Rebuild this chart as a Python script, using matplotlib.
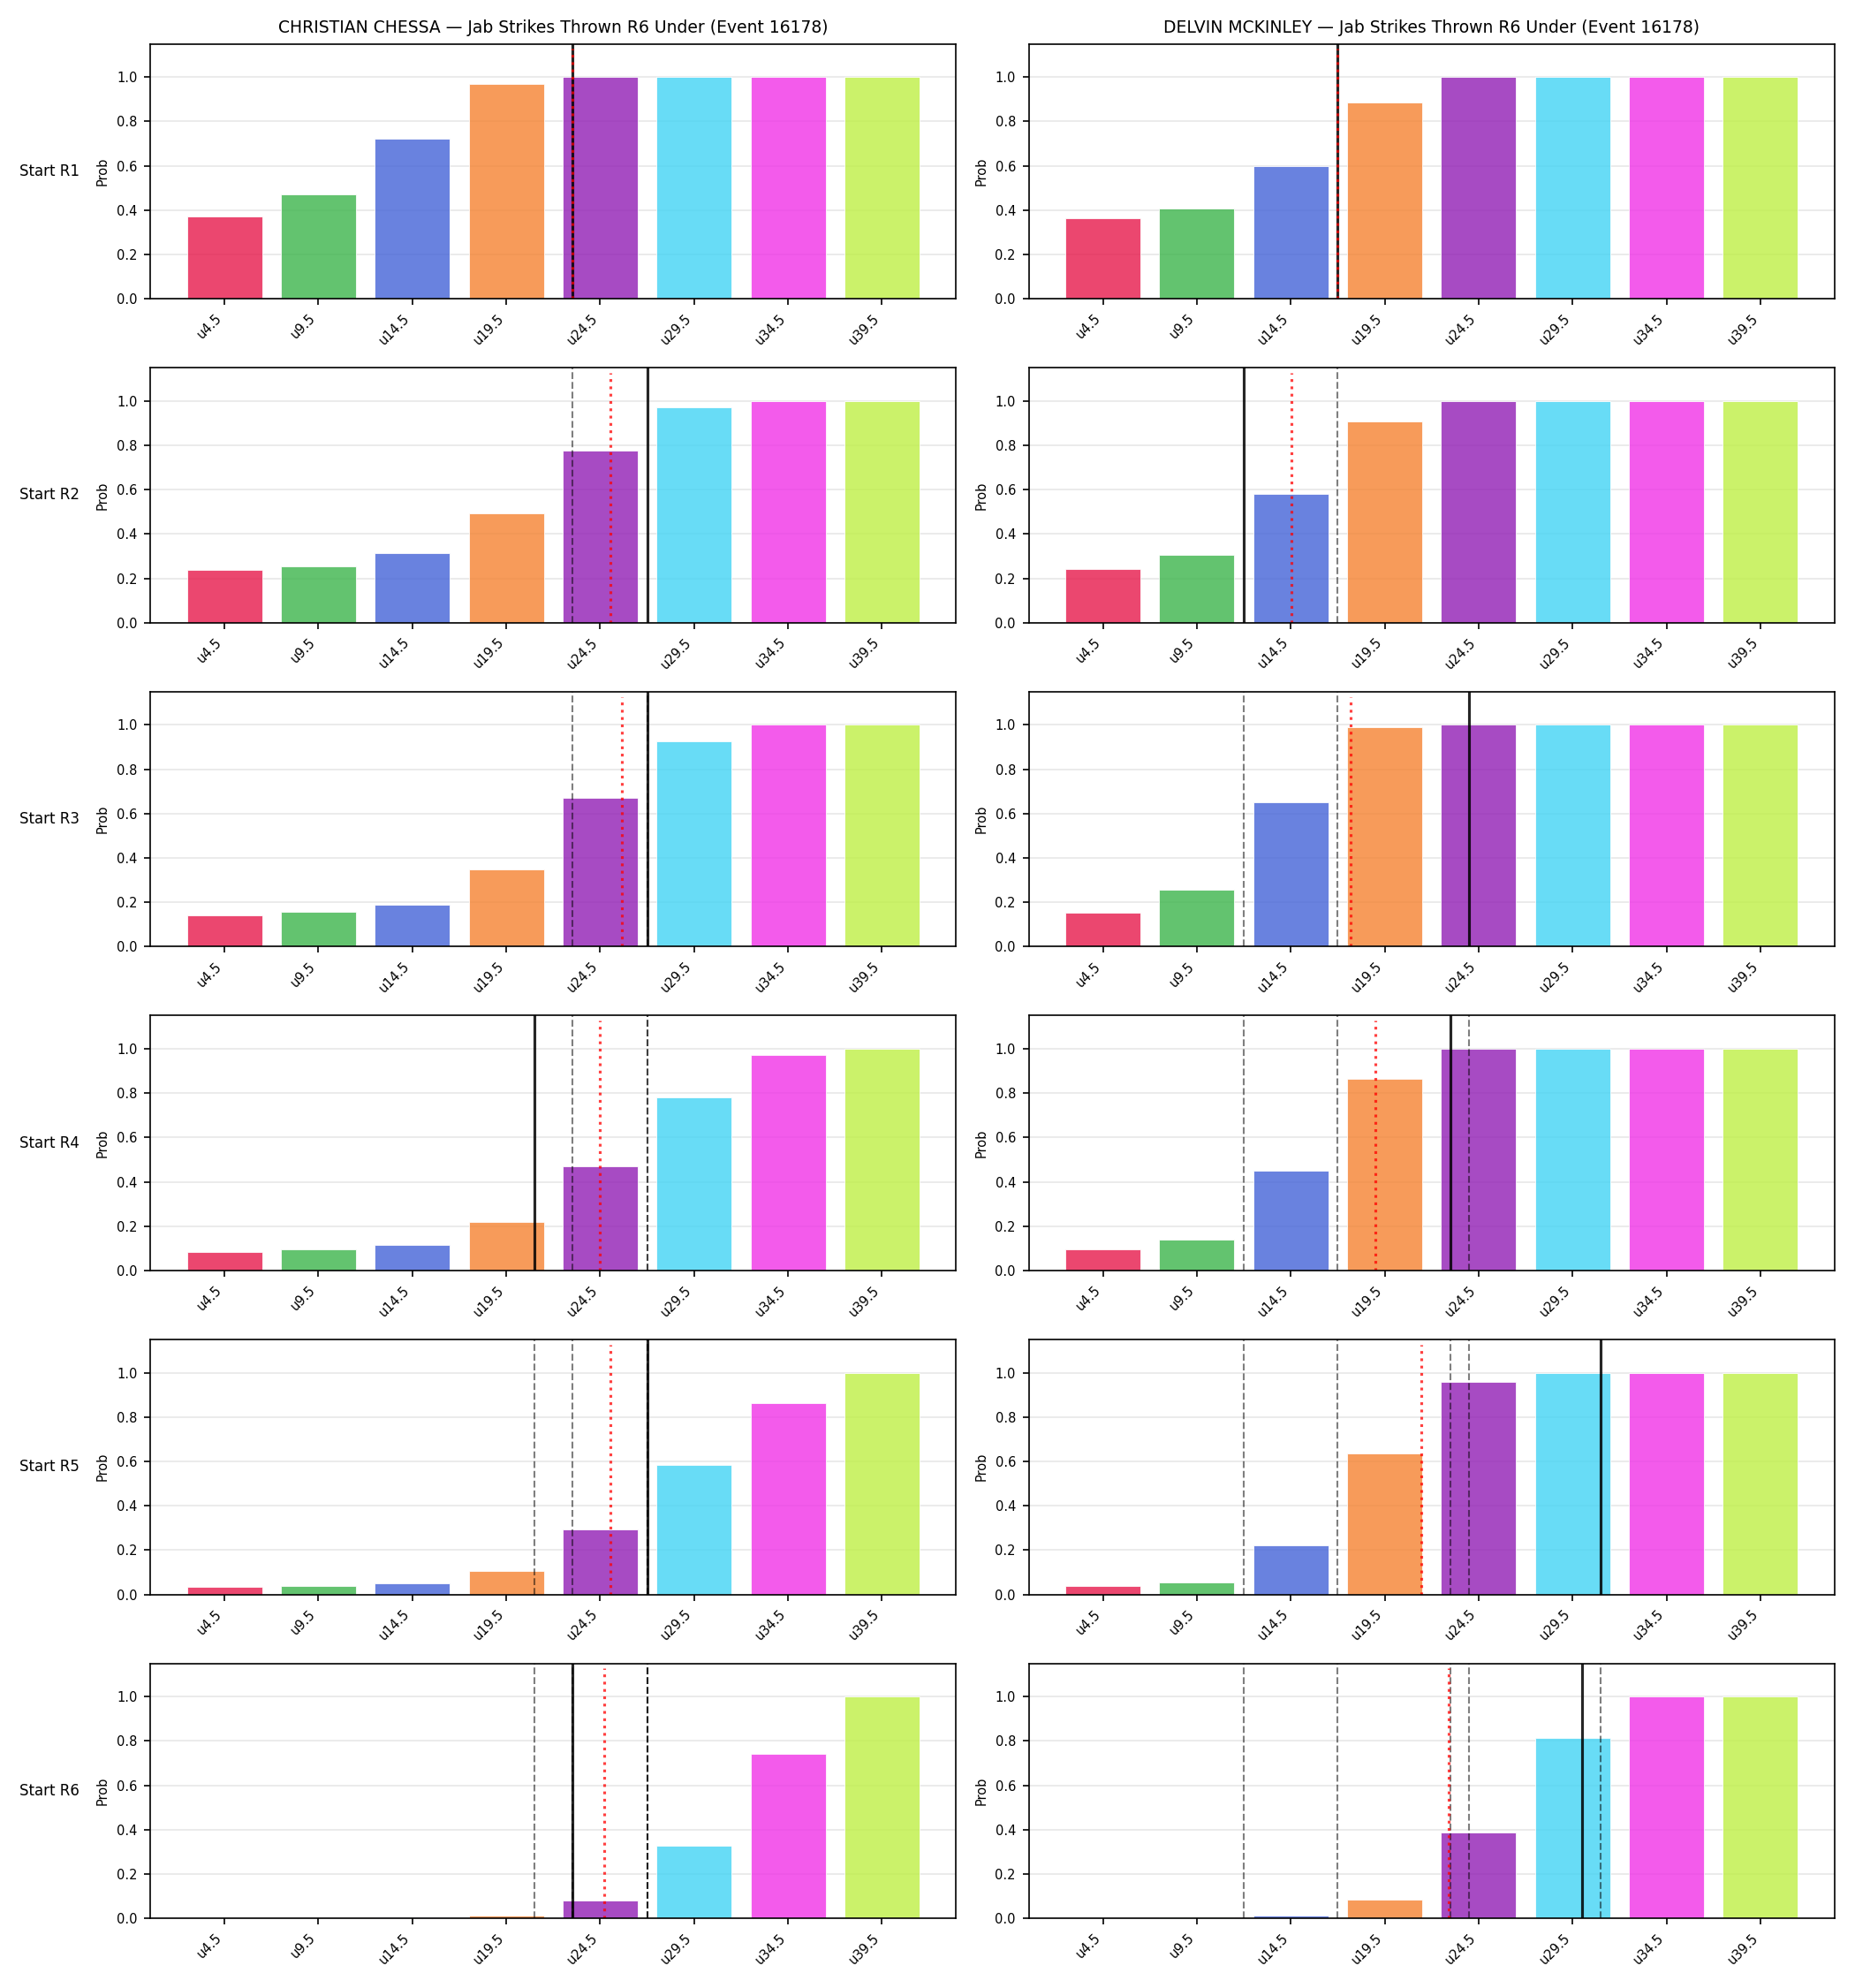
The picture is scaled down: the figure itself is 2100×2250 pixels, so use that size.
"""Jab strikes thrown, R6 under: probability ladders per starting round."""

import matplotlib

matplotlib.use("Agg")
import matplotlib.pyplot as plt
import numpy as np

EVENT = 16178
FIGHTERS = ["CHRISTIAN CHESSA", "DELVIN MCKINLEY"]
ROUNDS = ["R1", "R2", "R3", "R4", "R5", "R6"]
THRESHOLDS = [4.5, 9.5, 14.5, 19.5, 24.5, 29.5, 34.5, 39.5]
TICK_LABELS = ["u4.5", "u9.5", "u14.5", "u19.5", "u24.5", "u29.5", "u34.5", "u39.5"]
BAR_COLORS = ["#e6194b", "#3cb44b", "#4363d8", "#f58231",
              "#911eb4", "#42d4f4", "#f032e6", "#bfef45"]

# P(under) per threshold, one row per starting round
chessa_probs = [
    [0.371, 0.471, 0.722, 0.969, 1.0, 1.0, 1.0, 1.0],
    [0.239, 0.255, 0.315, 0.495, 0.777, 0.970, 1.0, 1.0],
    [0.143, 0.155, 0.187, 0.350, 0.672, 0.926, 1.0, 1.0],
    [0.085, 0.097, 0.117, 0.220, 0.472, 0.781, 0.973, 1.0],
    [0.033, 0.037, 0.052, 0.108, 0.295, 0.585, 0.862, 1.0],
    [0.001, 0.002, 0.003, 0.011, 0.079, 0.329, 0.743, 1.0],
]
mckinley_probs = [
    [0.364, 0.408, 0.598, 0.886, 1.0, 1.0, 1.0, 1.0],
    [0.243, 0.306, 0.580, 0.906, 1.0, 1.0, 1.0, 1.0],
    [0.151, 0.258, 0.652, 0.990, 1.0, 1.0, 1.0, 1.0],
    [0.097, 0.140, 0.452, 0.863, 1.0, 1.0, 1.0, 1.0],
    [0.037, 0.056, 0.220, 0.636, 0.959, 1.0, 1.0, 1.0],
    [0.001, 0.003, 0.011, 0.083, 0.389, 0.815, 1.0, 1.0],
]

# projected strikes (solid) and model mean (dotted) per starting round
chessa_proj = [23, 27, 27, 21, 27, 23]
chessa_mean = [23, 25.05, 25.65, 24.5, 25.05, 24.7]
mckinley_proj = [17, 12, 24, 23, 31, 30]
mckinley_mean = [17, 14.55, 17.7, 19.0, 21.45, 22.9]

ALL_PROBS = [chessa_probs, mckinley_probs]
ALL_PROJ = [chessa_proj, mckinley_proj]
ALL_MEAN = [chessa_mean, mckinley_mean]


def to_x(v):
    """Map a strike count onto the bar index axis."""
    return (v - THRESHOLDS[0]) / (THRESHOLDS[1] - THRESHOLDS[0])


fig, axes = plt.subplots(len(ROUNDS), 2, figsize=(14, 15))
fig.subplots_adjust(left=0.081, right=0.989, top=0.978, bottom=0.035,
                    hspace=0.27, wspace=0.09)

x = np.arange(len(THRESHOLDS))
for col, name in enumerate(FIGHTERS):
    for row, rnd in enumerate(ROUNDS):
        ax = axes[row, col]
        ax.bar(x, ALL_PROBS[col][row], color=BAR_COLORS, alpha=0.8,
               edgecolor="white", linewidth=0.5)
        # earlier rounds' projections
        for prev in ALL_PROJ[col][:row]:
            ax.axvline(to_x(prev), color="black", linestyle="--",
                       linewidth=1, alpha=0.5)
        ax.axvline(to_x(ALL_PROJ[col][row]), color="black", linewidth=1.5,
                   alpha=0.85)
        ax.axvline(to_x(ALL_MEAN[col][row]), color="red", linestyle=":",
                   linewidth=1.5, alpha=0.75, ymax=0.98)
        ax.set_ylim(0, 1.15)
        ax.set_yticks([0, 0.2, 0.4, 0.6, 0.8, 1.0])
        ax.set_xticks(x)
        ax.set_xticklabels(TICK_LABELS, rotation=45, ha="right", fontsize=7)
        ax.tick_params(axis="y", labelsize=7)
        ax.set_ylabel("Prob", fontsize=7)
        ax.grid(axis="y", alpha=0.3)
        ax.set_axisbelow(True)
        if row == 0:
            ax.set_title(f"{name} — Jab Strikes Thrown R6 Under (Event {EVENT})",
                         fontsize=9)
        if col == 0:
            ax.text(-0.088, 0.5, f"Start {rnd}", transform=ax.transAxes,
                    ha="right", va="center", fontsize=8)

plt.savefig("out.png", dpi=150)
plt.close()
